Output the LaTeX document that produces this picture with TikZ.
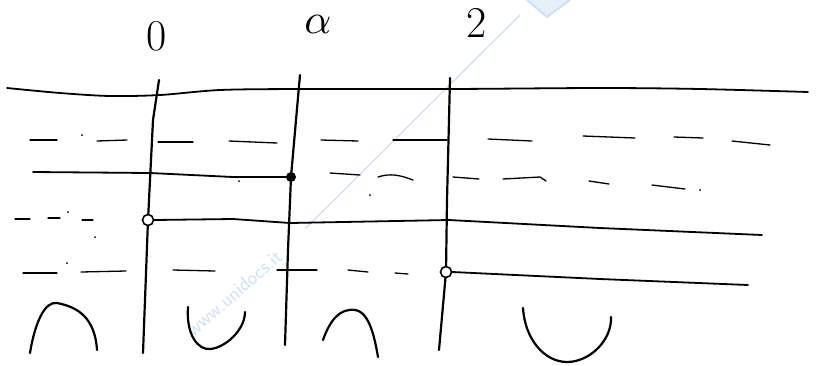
\documentclass[tikz,border=0pt]{standalone}
\definecolor{wmblue}{RGB}{205,225,245}
\begin{document}
\begin{tikzpicture}[x=1pt,y=-1pt,
  ink/.style={line width=1.8pt, line cap=round, line join=round},
  bar/.style={line width=2.2pt, line cap=round, line join=round},
  dsh/.style={line width=1.3pt, line cap=round},
  sgn/.style={line width=2.2pt, line cap=round},
  speck/.style={fill=black, circle, inner sep=0pt, minimum size=2pt},
  odot/.style={circle, draw, fill=white, line width=1.6pt, inner sep=0pt, minimum size=11pt},
  fdot/.style={circle, fill=black, inner sep=0pt, minimum size=10pt},
  lbl/.style={font=\fontsize{44}{44}\selectfont, inner sep=0pt}]
\useasboundingbox (0,0) rectangle (821,365);

% watermark
\draw[wmblue, line width=1.2pt] (305,229) -- (520,15);
\draw[wmblue, line width=2pt, line join=round, fill=wmblue!50] (527,0) -- (547,17) -- (570,0);
\node[rotate=41, text=wmblue, font=\sffamily\fontsize{20}{20}\selectfont, inner sep=0pt] (wm) at (234,293) {www.unidocs.it};

% labels
\node[lbl] (l0) at (157,36) {0};
\node[inner sep=0pt] (lA) at (318,24) {\scalebox{4.2}{$\alpha$}};
\node[lbl] (l2) at (477,23) {2};

% top line
\draw[ink] plot[smooth] coordinates {(7,88) (60,93) (110,96) (160,95) (220,90) (300,89) (450,89) (600,88) (700,89) (808,92)};

% dashes row 1
\foreach \a/\b/\c/\d in {30/140/57/140, 97/141/127/140, 158/142/193/142, 229/141/277/143, 321/140/358/141, 393/140/447/140, 488/139/532/141, 583/136/635/138, 674/137/703/138, 732/141/770/145}
  \draw[dsh] (\a,\b) -- (\c,\d);
% dashes row 2
\foreach \a/\b/\c/\d in {330/173/360/175, 453/177/479/179, 589/181/609/184, 652/185/685/189}
  \draw[dsh] (\a,\b) -- (\c,\d);
\draw[dsh] (378,177) .. controls (390,173) and (400,175) .. (413,180);
\draw[dsh] (503,179) -- (540,177) -- (546,181);
% dashes row 3
\foreach \a/\b/\c/\d in {15/219/30/219, 48/218/60/218, 82/220/93/220}
  \draw[dsh] (\a,\b) -- (\c,\d);
% dashes row 4
\foreach \a/\b/\c/\d in {23/273/57/273, 81/272/126/271, 173/270/215/271, 277/270/317/270, 348/270/368/272, 395/273/408/274}
  \draw[dsh] (\a,\b) -- (\c,\d);

% specks
\foreach \p in {(82,135), (370,195), (700,190), (67,263), (68,212), (95,237), (239,181)}
  \node[speck] at \p {};

% key points
\coordinate (v0t) at (159,80);
\coordinate (v0b) at (143,353);
\coordinate (vAt) at (300,75);
\coordinate (vAb) at (285,345);
\coordinate (v2t) at (450,78);
\coordinate (v2b) at (439,350);
\coordinate (hAs) at (33,172);
\coordinate (h0e) at (762,235);
\coordinate (h2e) at (748,285);

% vertical lines
\draw[bar] (v0t) -- (153,120) -- (148,220) -- (145,300) -- (v0b);
\draw[bar] (vAt) -- (296,120) -- (291,177) -- (288,250) -- (vAb);
\draw[bar] (v2t) -- (449,120) -- (447,200) -- (446,272) -- (v2b);

% horizontal lines
\node[fdot] (dA) at (291,177) {};
\draw[ink] (hAs) -- (150,173) -- (233,177) -- (dA);
\node[odot] (c0) at (148,220) {};
\draw[ink] (c0.east) -- (233,219) -- (290,223) -- (449,220) -- (600,228) -- (h0e);
\node[odot] (c2) at (446,272) {};
\draw[ink] (c2.east) -- (600,279) -- (h2e);

% sign arcs
\draw[sgn] (30,353) .. controls (35,322) and (45,301) .. (57,303) .. controls (78,307) and (95,318) .. (97,350);
\draw[sgn] (188,307) .. controls (186,335) and (198,350) .. (210,349) .. controls (225,348) and (245,330) .. (245,312);
\draw[sgn] (323,340) .. controls (330,320) and (340,308) .. (355,310) .. controls (370,312) and (375,340) .. (378,357);
\draw[sgn] (523,308) .. controls (525,340) and (545,362) .. (567,362) .. controls (590,362) and (612,340) .. (611,317);
\end{tikzpicture}
\end{document}
